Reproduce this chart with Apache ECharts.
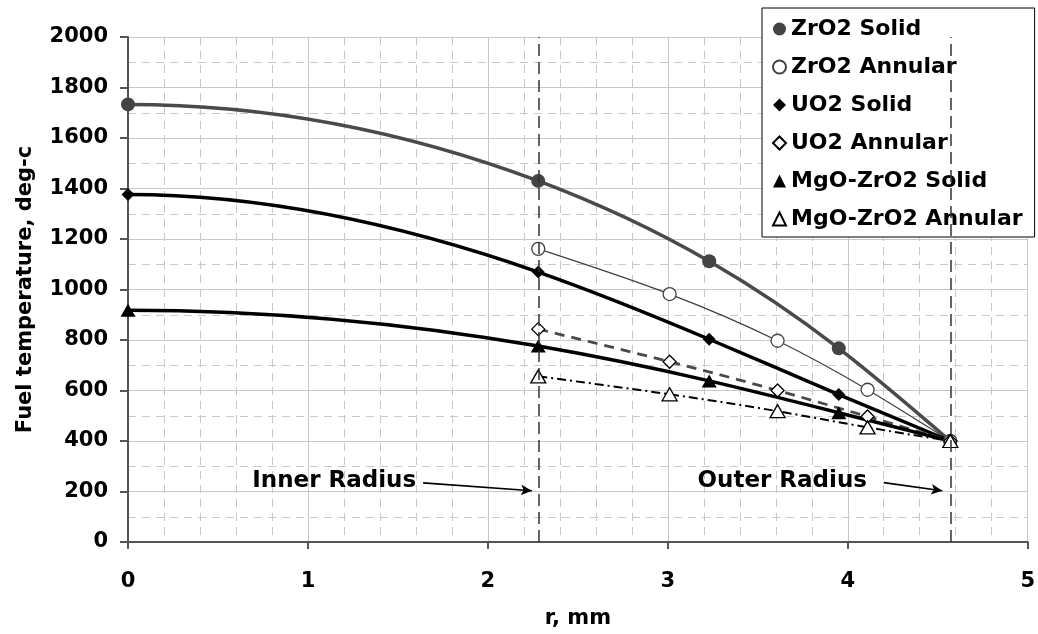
<!DOCTYPE html>
<html><head><meta charset="utf-8">
<script src="https://cdn.jsdelivr.net/npm/echarts@6/dist/echarts.min.js"></script>
<style>html,body{margin:0;padding:0;background:#fff}#c{width:1038px;height:634px}</style>
</head><body><div id="c"></div>
<script>
// ---- data ----
const seriesNames = ['ZrO2 Solid', 'ZrO2 Annular', 'UO2 Solid', 'UO2 Annular', 'MgO-ZrO2 Solid', 'MgO-ZrO2 Annular'];
const solidR   = [0, 2.28, 3.23, 3.95, 4.57];
const annularR = [2.28, 3.01, 3.61, 4.11, 4.57];
const zro2Solid   = [1733, 1430, 1112, 767, 400];
const zro2Annular = [1161, 982, 797, 603, 400];
const uo2Solid    = [1376, 1069, 803, 584, 400];
const uo2Annular  = [843, 714, 600, 497, 400];
const mgoSolid    = [918, 776, 638, 512, 400];
const mgoAnnular  = [656, 585, 518, 454, 400];
const radiusLines  = [2.28, 4.57];
const radiusLabels = ['Inner Radius', 'Outer Radius'];
const xTicks = [0, 1, 2, 3, 4, 5];
const yTicks = [0, 200, 400, 600, 800, 1000, 1200, 1400, 1600, 1800, 2000];
const xName = 'r, mm';
const yName = 'Fuel temperature, deg-c';

// ---- chart ----
const font = '"DejaVu Sans", Verdana, sans-serif';
const pair = (xs, ys) => xs.map((x, i) => [x, ys[i]]);
const chart = echarts.init(document.getElementById('c'), null, {renderer: 'canvas'});
const baseText = {fontFamily: font, fontWeight: 'bold', color: '#000'};

// cubic spline (smooth line rendering, like a spreadsheet's "smoothed line")
// Bezier segments in data space; start slope clamped to 0 at r = 0 (symmetry), natural otherwise
function splineSegments(xs, ys) {
  const n = xs.length - 1;
  const h = [];
  for (let i = 0; i < n; i++) h.push(xs[i + 1] - xs[i]);
  const a = new Array(n + 1).fill(0), b = new Array(n + 1).fill(0), c = new Array(n + 1).fill(0), d = new Array(n + 1).fill(0);
  if (xs[0] === 0) { b[0] = 2 * h[0]; c[0] = h[0]; d[0] = 6 * ((ys[1] - ys[0]) / h[0] - 0); }
  else { b[0] = 1; }
  for (let i = 1; i < n; i++) {
    a[i] = h[i - 1]; b[i] = 2 * (h[i - 1] + h[i]); c[i] = h[i];
    d[i] = 6 * ((ys[i + 1] - ys[i]) / h[i] - (ys[i] - ys[i - 1]) / h[i - 1]);
  }
  b[n] = 1;
  const cp = new Array(n + 1).fill(0), dp = new Array(n + 1).fill(0);
  cp[0] = c[0] / b[0]; dp[0] = d[0] / b[0];
  for (let i = 1; i <= n; i++) {
    const m = b[i] - a[i] * cp[i - 1];
    cp[i] = c[i] / m; dp[i] = (d[i] - a[i] * dp[i - 1]) / m;
  }
  const M = new Array(n + 1).fill(0);
  M[n] = dp[n];
  for (let i = n - 1; i >= 0; i--) M[i] = dp[i] - cp[i] * M[i + 1];
  const slope = [];
  for (let i = 0; i < n; i++) slope.push((ys[i + 1] - ys[i]) / h[i] - h[i] * (2 * M[i] + M[i + 1]) / 6);
  slope.push((ys[n] - ys[n - 1]) / h[n - 1] + h[n - 1] * (M[n - 1] + 2 * M[n]) / 6);
  const segs = [];
  for (let i = 0; i < n; i++) {
    segs.push([
      [xs[i], ys[i]],
      [xs[i] + h[i] / 3, ys[i] + slope[i] * h[i] / 3],
      [xs[i + 1] - h[i] / 3, ys[i + 1] - slope[i + 1] * h[i] / 3],
      [xs[i + 1], ys[i + 1]]
    ]);
  }
  return segs;
}

function curveSeries(xs, ys, style) {
  const segs = splineSegments(xs, ys);
  return {
    type: 'custom', coordinateSystem: 'cartesian2d', silent: true, z: 2,
    data: [[xs[0], ys[0]]],
    renderItem: function (params, api) {
      const p0 = api.coord(segs[0][0]);
      let path = 'M' + p0[0] + ' ' + p0[1];
      segs.forEach(s => {
        const c1 = api.coord(s[1]), c2 = api.coord(s[2]), e = api.coord(s[3]);
        path += ' C' + c1[0] + ' ' + c1[1] + ' ' + c2[0] + ' ' + c2[1] + ' ' + e[0] + ' ' + e[1];
      });
      return {type: 'path', shape: {pathData: path}, style: Object.assign({fill: 'none'}, style)};
    }
  };
}

const markerSeries = [
  {name: seriesNames[0], data: pair(solidR, zro2Solid), symbol: 'circle', symbolSize: 14,
   itemStyle: {color: '#444444', opacity: 1}},
  {name: seriesNames[1], data: pair(annularR, zro2Annular), symbol: 'circle', symbolSize: 13,
   itemStyle: {color: '#ffffff', borderColor: '#404040', borderWidth: 1.3, opacity: 1}},
  {name: seriesNames[2], data: pair(solidR, uo2Solid), symbol: 'diamond', symbolSize: 13,
   itemStyle: {color: '#000000', opacity: 1}},
  {name: seriesNames[3], data: pair(annularR, uo2Annular), symbol: 'diamond', symbolSize: 13,
   itemStyle: {color: '#ffffff', borderColor: '#000000', borderWidth: 1.3, opacity: 1}},
  {name: seriesNames[4], data: pair(solidR, mgoSolid), symbol: 'triangle', symbolSize: [15, 13],
   itemStyle: {color: '#000000', opacity: 1}},
  {name: seriesNames[5], data: pair(annularR, mgoAnnular), symbol: 'triangle', symbolSize: [15, 13],
   itemStyle: {color: '#ffffff', borderColor: '#000000', borderWidth: 1.3, opacity: 1}}
].map(s => Object.assign({type: 'scatter', z: 4, emphasis: {disabled: true}}, s));

const curves = [
  curveSeries(solidR, zro2Solid,     {stroke: '#4a4a4a', lineWidth: 3.5}),
  curveSeries(annularR, zro2Annular, {stroke: '#404040', lineWidth: 1.3}),
  curveSeries(solidR, uo2Solid,      {stroke: '#000000', lineWidth: 3.5}),
  curveSeries(annularR, uo2Annular,  {stroke: '#4a4a4a', lineWidth: 2.8, lineDash: [10, 7]}),
  curveSeries(solidR, mgoSolid,      {stroke: '#000000', lineWidth: 3.5}),
  curveSeries(annularR, mgoAnnular,  {stroke: '#000000', lineWidth: 2, lineDash: [9, 4, 2, 4]})
];

// radius reference lines + annotation arrows + labels (anchored in data coordinates)
markerSeries[0].markLine = {
  silent: true,
  symbol: ['none', 'none'],
  label: {show: false},
  emphasis: {disabled: true},
  data: [
    {xAxis: radiusLines[0], lineStyle: {color: '#333', width: 1.5, type: [12, 6]}},
    {xAxis: radiusLines[1], lineStyle: {color: '#333', width: 1.5, type: [12, 6]}},
    [{coord: [1.64, 234], symbol: 'none', lineStyle: {color: '#000', width: 1.6, type: 'solid'}},
     {coord: [radiusLines[0] - 0.035, 203], symbol: 'arrow', symbolSize: [8, 11]}],
    [{coord: [4.20, 235], symbol: 'none', lineStyle: {color: '#000', width: 1.6, type: 'solid'}},
     {coord: [radiusLines[1] - 0.045, 203], symbol: 'arrow', symbolSize: [8, 11]}]
  ]
};
markerSeries[0].markPoint = {
  silent: true,
  symbol: 'rect', symbolSize: 1,
  itemStyle: {color: 'rgba(0,0,0,0)'},
  label: {show: true, position: 'inside', fontFamily: font, fontWeight: 'bold', fontSize: 23, color: '#000'},
  emphasis: {disabled: true},
  data: [
    {coord: [1.146, 240], value: radiusLabels[0], label: {formatter: radiusLabels[0]}},
    {coord: [3.636, 240], value: radiusLabels[1], label: {formatter: radiusLabels[1]}}
  ]
};

const option = {
  animation: false,
  backgroundColor: '#fff',
  grid: {left: 128, right: 10, top: 37, bottom: 87, containLabel: false},
  xAxis: {
    type: 'value', min: xTicks[0], max: xTicks[xTicks.length - 1], interval: 1,
    name: xName, nameLocation: 'middle', nameGap: 66,
    nameTextStyle: Object.assign({fontSize: 21}, baseText),
    axisLine: {show: true, onZero: false, lineStyle: {color: '#555', width: 2}},
    axisTick: {show: true, length: 7, lineStyle: {color: '#555', width: 2}},
    axisLabel: Object.assign({margin: 29, fontSize: 21, formatter: v => String(v)}, baseText),
    splitLine: {show: true, lineStyle: {color: '#c8c8c8', width: 1}},
    minorTick: {show: false, splitNumber: 5},
    minorSplitLine: {show: true, lineStyle: {color: '#c8c8c8', width: 1, type: [8, 6]}}
  },
  yAxis: {
    type: 'value', min: yTicks[0], max: yTicks[yTicks.length - 1], interval: 200,
    name: yName, nameLocation: 'middle', nameGap: 92, nameRotate: 90,
    nameTextStyle: Object.assign({fontSize: 21}, baseText),
    axisLine: {show: true, lineStyle: {color: '#555', width: 2}},
    axisTick: {show: true, length: 8, lineStyle: {color: '#555', width: 2}},
    axisLabel: Object.assign({margin: 20, fontSize: 21, formatter: v => String(v)}, baseText),
    splitLine: {show: true, lineStyle: {color: '#c8c8c8', width: 1}},
    minorTick: {show: false, splitNumber: 2},
    minorSplitLine: {show: true, lineStyle: {color: '#c8c8c8', width: 1, type: [8, 6]}}
  },
  legend: {
    orient: 'vertical', left: 762, top: 8,
    padding: [10, 12, 7, 10], itemGap: 16, itemWidth: 13, itemHeight: 13,
    backgroundColor: '#fff', borderColor: '#000', borderWidth: 1, borderRadius: 0,
    textStyle: Object.assign({fontSize: 22, lineHeight: 22}, baseText),
    data: [
      {name: seriesNames[0], icon: 'circle'},
      {name: seriesNames[1], icon: 'circle'},
      {name: seriesNames[2], icon: 'diamond'},
      {name: seriesNames[3], icon: 'diamond'},
      {name: seriesNames[4], icon: 'triangle'},
      {name: seriesNames[5], icon: 'triangle'}
    ]
  },
  series: curves.concat(markerSeries)
};
chart.setOption(option);
</script>
</body></html>
